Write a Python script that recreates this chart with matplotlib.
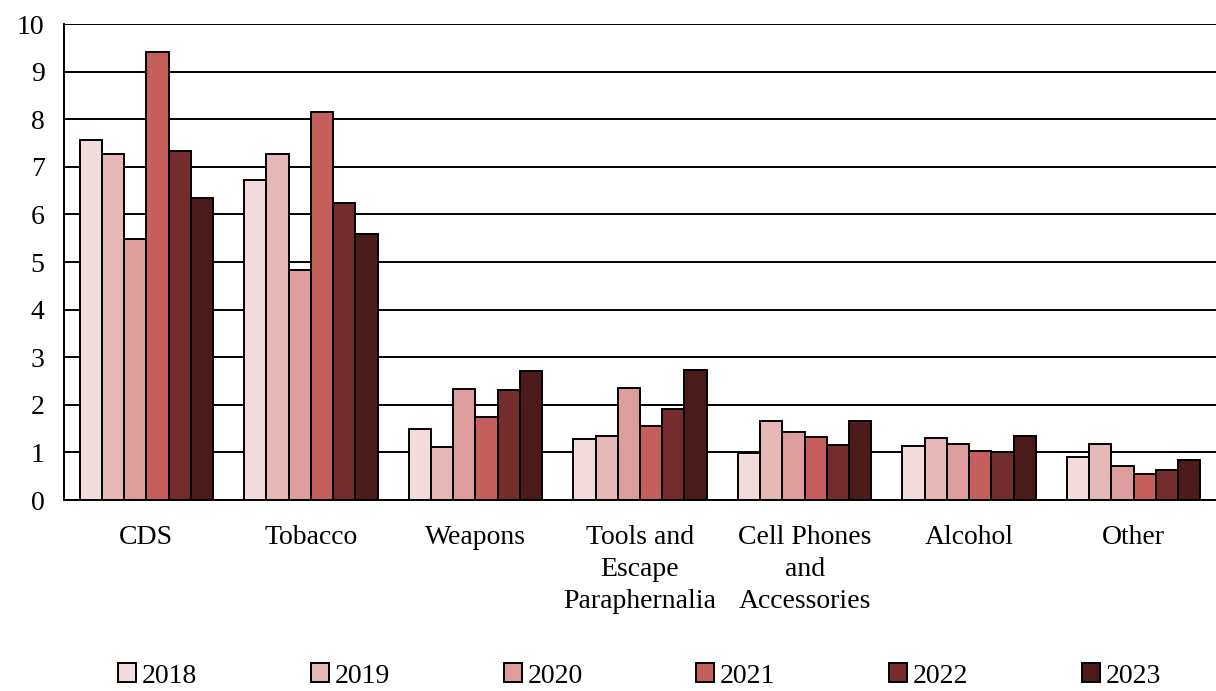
import numpy as np
import matplotlib

matplotlib.use("Agg")
import matplotlib.pyplot as plt

plt.rcParams["font.family"] = ["Liberation Serif", "DejaVu Serif"]

categories = ["CDS", "Tobacco", "Weapons", "Tools and\nEscape\nParaphernalia",
              "Cell Phones\nand\nAccessories", "Alcohol", "Other"]
years = ["2018", "2019", "2020", "2021", "2022", "2023"]

v2018 = [7.56, 6.72, 1.49, 1.28, 0.98, 1.13, 0.90]
v2019 = [7.27, 7.27, 1.12, 1.35, 1.65, 1.30, 1.17]
v2020 = [5.48, 4.83, 2.33, 2.36, 1.42, 1.17, 0.71]
v2021 = [9.41, 8.15, 1.74, 1.56, 1.33, 1.03, 0.55]
v2022 = [7.33, 6.24, 2.32, 1.92, 1.16, 1.00, 0.62]
v2023 = [6.34, 5.59, 2.71, 2.73, 1.65, 1.35, 0.83]
series = [v2018, v2019, v2020, v2021, v2022, v2023]

colors = ["#F2DCDB", "#E6B8B7", "#DC9D9C", "#C45F5C", "#742C2C", "#4B1B1C"]

fig = plt.figure(figsize=(12.16, 6.91), dpi=100)
ax = fig.add_axes([64 / 1216, 1 - 500 / 691, 1152 / 1216, 476 / 691])

x = np.arange(len(categories))
n = len(series)
group = 0.81
w = group / n
for i, (vals, c, yr) in enumerate(zip(series, colors, years)):
    ax.bar(x - group / 2 + w * (i + 0.5), vals, width=w, color=c,
           edgecolor="black", linewidth=1.4, label=yr, zorder=3)

ax.set_xlim(-0.5, len(categories) - 0.5)
ax.set_ylim(0, 10)
ax.set_yticks(range(0, 11))
ax.yaxis.grid(True, color="black", linewidth=1.4, zorder=0)
ax.set_axisbelow(True)
ax.set_xticks(x)
ax.set_xticklabels(categories, fontsize=20, linespacing=1.36)
ax.tick_params(axis="x", length=0, pad=18)
ax.tick_params(axis="y", length=0, pad=14, labelsize=20)
for s in ["top", "right"]:
    ax.spines[s].set_visible(False)
ax.spines["left"].set_linewidth(1.4)
ax.spines["bottom"].set_linewidth(1.4)

fig.legend(loc="center", bbox_to_anchor=(0.526, 1 - 676 / 691), ncol=6, frameon=False,
           fontsize=20, handlelength=0.65, handleheight=0.65, handletextpad=0.2,
           columnspacing=4.1, borderpad=0)

fig.savefig("out.png", dpi=100)
